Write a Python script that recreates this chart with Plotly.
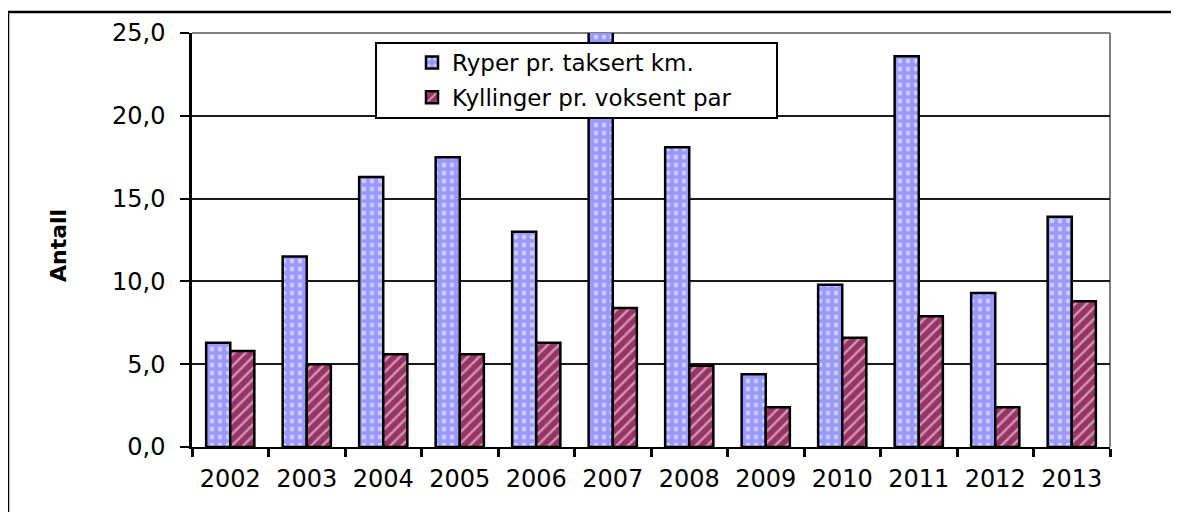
import plotly.graph_objects as go

years = ["2002", "2003", "2004", "2005", "2006", "2007", "2008", "2009", "2010", "2011", "2012", "2013"]
ryper = [6.3, 11.5, 16.3, 17.5, 13.0, 25.3, 18.1, 4.4, 9.8, 23.6, 9.3, 13.9]
kyllinger = [5.8, 5.0, 5.6, 5.6, 6.3, 8.4, 4.9, 2.4, 6.6, 7.9, 2.4, 8.8]
series_names = ["Ryper pr. taksert km.", "Kyllinger pr. voksent par"]
y_title = "Antall"

FONT = "DejaVu Sans"

# page body has an 8px margin; work in page pixels and convert
OFF = 8
W, H = 1179 - OFF, 512 - OFF
PL, PR, PT, PB = 192, 1110, 33, 447  # plot area in page pixels
L, R, T, B = PL - OFF, W - (PR - OFF), PT - OFF, H - (PB - OFF)
pw, ph = PR - PL, PB - PT


def px(x):
    return (x - PL) / pw


def py(y):
    return (PB - y) / ph


fig = go.Figure()
fig.add_trace(go.Bar(
    x=years, y=ryper, name=series_names[0], legendgroup="a",
    marker=dict(color="#9999FF", line=dict(color="black", width=2.5),
                pattern=dict(shape=".", fgcolor="white", bgcolor="#9999FF",
                             size=8, solidity=0.28, fillmode="overlay")),
    cliponaxis=False,
))
fig.add_trace(go.Bar(
    x=years, y=kyllinger, name=series_names[1], legendgroup="b",
    marker=dict(color="#993366", line=dict(color="black", width=2.5),
                pattern=dict(shape="/", fgcolor="white", bgcolor="#993366",
                             size=8, solidity=0.3, fillmode="overlay")),
))

shapes = [
    # outer frame
    dict(type="rect", xref="paper", yref="paper",
         x0=px(8), x1=px(1200), y0=py(530), y1=py(12),
         line=dict(color="black", width=2.5), fillcolor="rgba(0,0,0,0)", layer="below"),
    # plot area top and right border (gray)
    dict(type="line", xref="paper", yref="paper", x0=0, x1=1, y0=1, y1=1,
         line=dict(color="#808080", width=2), layer="between"),
    dict(type="line", xref="paper", yref="paper", x0=1, x1=1, y0=0, y1=1,
         line=dict(color="#808080", width=2), layer="between"),
    # legend box
    dict(type="rect", xref="paper", yref="paper",
         x0=px(376), x1=px(777), y0=py(118), y1=py(43),
         line=dict(color="black", width=2), fillcolor="white", layer="above"),
]

fig.update_layout(
    width=W, height=H,
    margin=dict(l=L, r=R, t=T, b=B),
    paper_bgcolor="white", plot_bgcolor="white",
    barmode="group", bargap=0.37, bargroupgap=0.0,
    separators=", ",
    font=dict(family=FONT, size=23, color="black"),
    showlegend=True,
    legend=dict(x=px(412), y=py(41), xanchor="left", yanchor="top",
                bgcolor="rgba(0,0,0,0)", borderwidth=0,
                font=dict(family=FONT, size=23, color="black"),
                traceorder="grouped", tracegroupgap=2),
    shapes=shapes,
    annotations=[dict(text=y_title, xref="paper", yref="paper",
                      x=px(58), y=py(246), xanchor="center", yanchor="middle",
                      showarrow=False, textangle=-90,
                      font=dict(family=FONT, size=22, color="black", weight="bold"))],
)

fig.update_xaxes(
    type="category", showgrid=False, showline=True, linecolor="black", linewidth=2,
    ticks="outside", tickson="boundaries", ticklen=8, tickwidth=2.5, tickcolor="black",
    ticklabelstandoff=9, tickfont=dict(family=FONT, size=24, color="black"),
)
fig.update_yaxes(
    range=[0, 25], dtick=5, tickformat=".1f", showgrid=True, gridcolor="#1a1a1a", gridwidth=1.5,
    showline=True, linecolor="black", linewidth=2.5, zeroline=False,
    ticks="outside", ticklen=9, tickwidth=2, tickcolor="black",
    ticklabelstandoff=10, tickfont=dict(family=FONT, size=24, color="black"),
)

fig.write_html("out.html")
